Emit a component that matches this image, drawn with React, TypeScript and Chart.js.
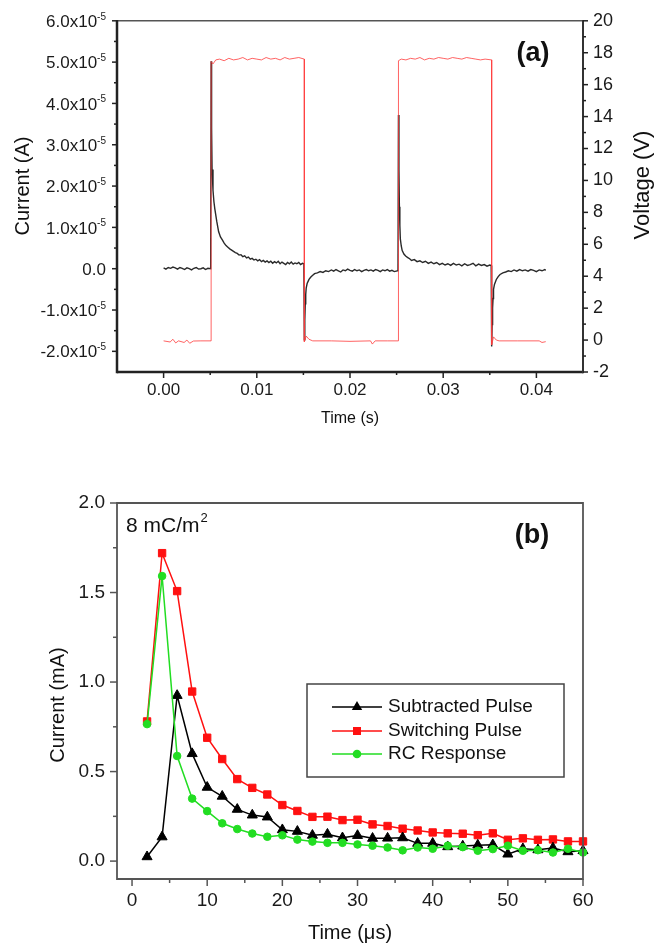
import React, { useEffect, useRef } from "react";
import { Chart, registerables } from "chart.js";

Chart.register(...registerables);

const FONT = '"Liberation Sans", Arial, Helvetica, sans-serif';

// ---------------- Panel (a): current (×10⁻⁵ A) and voltage (V) vs time (s) ----------------
const currentTime = [
  0.0, 0.00025, 0.0005, 0.00075, 0.001, 0.00125, 0.0015, 0.00175, 0.002, 0.00225, 0.0025, 0.00275, 0.003, 0.00325, 0.0035, 0.00375, 0.004, 0.00425, 0.0045, 0.00475, 0.00505,
  0.0051, 0.00515, 0.0052, 0.0053, 0.0054, 0.0055, 0.0057, 0.0059, 0.0061, 0.0063, 0.0065, 0.0067, 0.0069, 0.0071, 0.0073, 0.0075, 0.0077, 0.0079, 0.0081, 0.0083, 0.0085, 0.0087, 0.0089, 0.0091, 0.0093, 0.0095, 0.0097, 0.0099, 0.0101, 0.0103, 0.0105, 0.0107, 0.0109, 0.0111, 0.0113, 0.0115, 0.0117, 0.0119, 0.0121, 0.0123, 0.0125, 0.0127, 0.0129, 0.0131, 0.0133, 0.0135, 0.0137, 0.0139, 0.0141, 0.0143, 0.0145, 0.0147, 0.0149, 0.01505,
  0.0151, 0.01515, 0.0152, 0.01525, 0.0153, 0.0154, 0.0156, 0.0158, 0.016, 0.0162, 0.0165, 0.0168, 0.0171, 0.0174, 0.0177, 0.018, 0.01825, 0.0185, 0.01875, 0.019, 0.01925, 0.0195, 0.01975, 0.02, 0.02025, 0.0205, 0.02075, 0.021, 0.02125, 0.0215, 0.02175, 0.022, 0.02225, 0.0225, 0.02275, 0.023, 0.02325, 0.0235, 0.02375, 0.024, 0.02425, 0.0245, 0.02475, 0.02515,
  0.0252, 0.02525, 0.0253, 0.02535, 0.0254, 0.0255, 0.0256, 0.0258, 0.026, 0.0262, 0.0264, 0.0266, 0.0269, 0.0272, 0.0275, 0.0278, 0.0281, 0.0284, 0.0287, 0.029, 0.0293, 0.0296, 0.0299, 0.0302, 0.0305, 0.0308, 0.0311, 0.0314, 0.0317, 0.032, 0.0323, 0.0326, 0.0329, 0.0332, 0.0335, 0.0338, 0.0341, 0.0344, 0.0347, 0.035, 0.03515,
  0.0352, 0.03525, 0.0353, 0.03535, 0.0354, 0.0355, 0.0357, 0.0359, 0.0361, 0.0364, 0.0367, 0.037, 0.0373, 0.0376, 0.0379, 0.0382, 0.0385, 0.0388, 0.0391, 0.0394, 0.0397, 0.04, 0.0403, 0.0406, 0.0409, 0.041,
];
const currentValue = [
  0.02, -0.01, 0.03, 0.01, 0.04, 0.02, -0.01, 0.03, 0.01, -0.02, 0.02, 0.0, -0.03, 0.01, 0.03, -0.01, 0.0, 0.02, -0.02, 0.01, 0.0,
  5.02, 3.4, 2.4, 1.9, 1.62, 1.44, 1.15, 0.9, 0.77, 0.7, 0.62, 0.56, 0.52, 0.48, 0.45, 0.42, 0.39, 0.37, 0.33, 0.34, 0.29, 0.31, 0.26, 0.28, 0.23, 0.25, 0.21, 0.23, 0.19, 0.22, 0.17, 0.2, 0.16, 0.19, 0.15, 0.18, 0.13, 0.17, 0.14, 0.18, 0.12, 0.16, 0.13, 0.1, 0.15, 0.12, 0.16, 0.11, 0.14, 0.12, 0.15, 0.1, 0.13, 0.12,
  -1.72, -1.25, -0.85, -0.62, -0.47, -0.36, -0.26, -0.2, -0.16, -0.12, -0.1, -0.07, -0.09, -0.05, -0.07, -0.03, -0.06, -0.02, -0.05, -0.08, -0.03, -0.05, -0.01, -0.04, -0.06, -0.02, -0.05, -0.03, -0.07, -0.04, -0.02, -0.05, -0.03, -0.06, -0.02, -0.04, -0.07, -0.03, -0.05, -0.02, -0.06, -0.04, -0.07, -0.05,
  3.72, 2.4, 1.5, 1.05, 0.72, 0.55, 0.44, 0.35, 0.3, 0.27, 0.24, 0.2, 0.22, 0.17, 0.19, 0.15, 0.18, 0.13, 0.16, 0.12, 0.15, 0.1, 0.13, 0.09, 0.12, 0.08, 0.13, 0.09, 0.11, 0.07, 0.12, 0.08, 0.1, 0.13, 0.07, 0.11, 0.08, 0.1, 0.06, 0.09, 0.08,
  -1.88, -1.35, -0.95, -0.72, -0.5, -0.38, -0.26, -0.19, -0.14, -0.1, -0.08, -0.05, -0.07, -0.03, -0.06, -0.02, -0.05, -0.03, -0.06, -0.02, -0.04, -0.07, -0.03, -0.05, -0.02, -0.04,
];
const voltageTime = [
  0.0, 0.0007, 0.001, 0.0013, 0.0016, 0.0022, 0.0025, 0.0028, 0.0032, 0.004, 0.0051,
  0.0051, 0.0053, 0.0056, 0.006, 0.0065, 0.007, 0.0075, 0.008, 0.0085, 0.009, 0.0095, 0.01, 0.0105, 0.011, 0.0115, 0.012, 0.0125, 0.013, 0.0135, 0.014, 0.0145, 0.0151,
  0.0151, 0.0153, 0.0156, 0.016, 0.018, 0.02, 0.0222, 0.0224, 0.0227, 0.024, 0.0252,
  0.0252, 0.0255, 0.026, 0.0265, 0.027, 0.0275, 0.028, 0.0285, 0.029, 0.0295, 0.03, 0.0305, 0.031, 0.0315, 0.032, 0.0325, 0.033, 0.0335, 0.034, 0.0345, 0.0352,
  0.0352, 0.0354, 0.0357, 0.036, 0.038, 0.0403, 0.0406, 0.041,
];
const voltageValue = [
  -0.05, -0.12, 0.05, -0.18, -0.05, -0.15, 0.0, -0.2, -0.06, -0.05, -0.05,
  17.45, 17.3, 17.55, 17.6, 17.5, 17.65, 17.55, 17.6, 17.7, 17.55, 17.65, 17.6, 17.55, 17.7, 17.6, 17.65, 17.55, 17.7, 17.6, 17.65, 17.7, 17.6,
  -0.1, 0.25, 0.05, -0.05, -0.05, -0.08, -0.05, -0.25, -0.05, -0.05, -0.05,
  17.5, 17.6, 17.55, 17.65, 17.6, 17.7, 17.55, 17.65, 17.6, 17.7, 17.65, 17.6, 17.7, 17.65, 17.6, 17.7, 17.65, 17.6, 17.55, 17.6, 17.55,
  -0.3, 0.2, 0.0, -0.05, -0.05, -0.05, -0.15, -0.1,
];
const timeTicksA = [0, 0.01, 0.02, 0.03, 0.04];
const timeMinorA = [0.005, 0.015, 0.025, 0.035];
const currentTicksA = [-2, -1, 0, 1, 2, 3, 4, 5, 6];
const currentMinorA = [-1.5, -0.5, 0.5, 1.5, 2.5, 3.5, 4.5, 5.5];
const currentMantissaA = ["-2.0x10", "-1.0x10", "0.0", "1.0x10", "2.0x10", "3.0x10", "4.0x10", "5.0x10", "6.0x10"];
const currentExponentA = ["-5", "-5", "", "-5", "-5", "-5", "-5", "-5", "-5"];
const voltageTicksA = [-2, 0, 2, 4, 6, 8, 10, 12, 14, 16, 18, 20];
const voltageMinorA = [-1, 1, 3, 5, 7, 9, 11, 13, 15, 17, 19];

// ---------------- Panel (b): current (mA) vs time (μs) ----------------
const timeB = [2, 4, 6, 8, 10, 12, 14, 16, 18, 20, 22, 24, 26, 28, 30, 32, 34, 36, 38, 40, 42, 44, 46, 48, 50, 52, 54, 56, 58, 60];
const subtractedPulse = [0.024, 0.135, 0.925, 0.6, 0.412, 0.362, 0.289, 0.257, 0.246, 0.175, 0.166, 0.144, 0.15, 0.13, 0.143, 0.127, 0.128, 0.13, 0.099, 0.099, 0.08, 0.084, 0.089, 0.091, 0.039, 0.069, 0.063, 0.073, 0.052, 0.058];
const switchingPulse = [0.78, 1.72, 1.508, 0.947, 0.689, 0.57, 0.458, 0.409, 0.372, 0.313, 0.28, 0.247, 0.248, 0.229, 0.231, 0.205, 0.196, 0.181, 0.171, 0.16, 0.155, 0.153, 0.145, 0.155, 0.119, 0.127, 0.119, 0.121, 0.11, 0.11];
const rcResponse = [0.765, 1.592, 0.587, 0.349, 0.279, 0.211, 0.179, 0.154, 0.136, 0.144, 0.12, 0.109, 0.102, 0.102, 0.093, 0.086, 0.076, 0.06, 0.076, 0.069, 0.086, 0.078, 0.058, 0.067, 0.086, 0.058, 0.061, 0.048, 0.069, 0.048];
const seriesNamesB = ["Subtracted Pulse", "Switching Pulse", "RC Response"];
const timeTicksB = [0, 10, 20, 30, 40, 50, 60];
const timeMinorB = [5, 15, 25, 35, 45, 55];
const currentTicksB = [0, 0.5, 1.0, 1.5, 2.0];
const currentMinorB = [0.25, 0.75, 1.25, 1.75];

// ---------------- Decoration plugin ----------------
type Edge = { width: number; color: string };
type TickSpec = { axis: string; side: "left" | "right" | "bottom"; major: number[]; minor: number[]; majorLen: number; minorLen: number; width: number; color: string };
type TextSpec = { text: string; x: number; y: number; size: number; bold?: boolean; rotate?: boolean; align?: CanvasTextAlign; sup?: string; supSize?: number; supRise?: number };
type LegendItem = { label: string; color: string; marker: "triangle" | "square" | "circle" };
type LegendSpec = { left: number; top: number; width: number; height: number; rows: number[]; lineFrom: number; lineTo: number; textX: number; size: number; items: LegendItem[] };
type SupLabels = { axis: string; values: number[]; main: string[]; sup: string[]; rightEdge: number; size: number; supSize: number; supRise: number };
type DecoSpec = {
  frame: { left: Edge; right: Edge; top: Edge; bottom: Edge };
  ticks: TickSpec[];
  texts: TextSpec[];
  legend?: LegendSpec;
  supLabels?: SupLabels;
};

function drawMarker(ctx: CanvasRenderingContext2D, kind: string, x: number, y: number, color: string) {
  ctx.fillStyle = color;
  ctx.beginPath();
  if (kind === "triangle") {
    const r = 6;
    ctx.moveTo(x, y - r);
    ctx.lineTo(x + r * 0.866, y + r * 0.5);
    ctx.lineTo(x - r * 0.866, y + r * 0.5);
    ctx.closePath();
  } else if (kind === "square") {
    ctx.rect(x - 4, y - 4, 8, 8);
  } else {
    ctx.arc(x, y, 4.3, 0, Math.PI * 2);
  }
  ctx.fill();
}

function makeDeco(spec: DecoSpec) {
  return {
    id: "deco",
    afterDraw(chart: any) {
      const ctx = chart.ctx as CanvasRenderingContext2D;
      const a = chart.chartArea;
      ctx.save();
      const seg = (x1: number, y1: number, x2: number, y2: number, w: number, c: string) => {
        ctx.beginPath();
        ctx.lineWidth = w;
        ctx.strokeStyle = c;
        ctx.moveTo(x1, y1);
        ctx.lineTo(x2, y2);
        ctx.stroke();
      };
      const f = spec.frame;
      seg(a.left, a.top, a.right, a.top, f.top.width, f.top.color);
      seg(a.left, a.bottom, a.right, a.bottom, f.bottom.width, f.bottom.color);
      seg(a.left, a.top - f.top.width / 2, a.left, a.bottom + f.bottom.width / 2, f.left.width, f.left.color);
      seg(a.right, a.top - f.top.width / 2, a.right, a.bottom + f.bottom.width / 2, f.right.width, f.right.color);

      for (const t of spec.ticks) {
        const s = chart.scales[t.axis];
        const draw = (v: number, len: number) => {
          const p = s.getPixelForValue(v);
          if (t.side === "left") seg(a.left, p, a.left - len, p, t.width, t.color);
          else if (t.side === "right") seg(a.right, p, a.right + len, p, t.width, t.color);
          else seg(p, a.bottom, p, a.bottom + len, t.width, t.color);
        };
        t.major.forEach((v) => draw(v, t.majorLen));
        t.minor.forEach((v) => draw(v, t.minorLen));
      }

      if (spec.supLabels) {
        const sl = spec.supLabels;
        const s = chart.scales[sl.axis];
        ctx.fillStyle = "#1a1a1a";
        ctx.textBaseline = "alphabetic";
        ctx.textAlign = "right";
        sl.values.forEach((v, i) => {
          const p = s.getPixelForValue(v);
          ctx.font = `${sl.supSize}px ${FONT}`;
          const ws = sl.sup[i] ? ctx.measureText(sl.sup[i]).width : 0;
          if (sl.sup[i]) ctx.fillText(sl.sup[i], sl.rightEdge, p - sl.supRise);
          ctx.font = `${sl.size}px ${FONT}`;
          ctx.fillText(sl.main[i], sl.rightEdge - ws, p + sl.size * 0.36);
        });
      }

      for (const t of spec.texts) {
        ctx.save();
        ctx.translate(t.x, t.y);
        if (t.rotate) ctx.rotate(-Math.PI / 2);
        ctx.fillStyle = "#111";
        ctx.font = `${t.bold ? "bold " : ""}${t.size}px ${FONT}`;
        ctx.textBaseline = "middle";
        ctx.textAlign = t.align ?? "center";
        ctx.fillText(t.text, 0, 0);
        if (t.sup) {
          const w = ctx.measureText(t.text).width;
          ctx.font = `${t.supSize ?? 12}px ${FONT}`;
          ctx.textAlign = "left";
          ctx.fillText(t.sup, w + 1, -(t.supRise ?? 7));
        }
        ctx.restore();
      }

      if (spec.legend) {
        const L = spec.legend;
        ctx.lineWidth = 1.5;
        ctx.strokeStyle = "#444";
        ctx.strokeRect(L.left, L.top, L.width, L.height);
        L.items.forEach((it, i) => {
          const y = L.rows[i];
          seg(L.lineFrom, y, L.lineTo, y, 1.5, it.color);
          drawMarker(ctx, it.marker, (L.lineFrom + L.lineTo) / 2, y, it.color);
          ctx.fillStyle = "#111";
          ctx.font = `${L.size}px ${FONT}`;
          ctx.textAlign = "left";
          ctx.textBaseline = "middle";
          ctx.fillText(it.label, L.textX, y);
        });
      }
      ctx.restore();
    },
  };
}

// ---------------- Configs ----------------
const noGrid = { display: false, drawTicks: false };

function configA(): any {
  return {
    type: "line",
    data: {
      datasets: [
        {
          label: "Voltage (V)",
          data: voltageTime.map((x, i) => ({ x, y: voltageValue[i] })),
          yAxisID: "yV",
          borderColor: "rgba(255,60,60,0.8)",
          borderWidth: 1,
          pointRadius: 0,
          tension: 0,
        },
        {
          label: "Current (A)",
          data: currentTime.map((x, i) => ({ x, y: currentValue[i] })),
          yAxisID: "yI",
          borderColor: "#2a2a2a",
          borderWidth: 1.4,
          pointRadius: 0,
          tension: 0,
        },
      ],
    },
    options: {
      animation: false,
      responsive: false,
      maintainAspectRatio: false,
      layout: { padding: { top: 20, left: 0, right: 0, bottom: 0 } },
      plugins: { legend: { display: false }, tooltip: { enabled: false } },
      scales: {
        x: {
          type: "linear",
          position: "bottom",
          min: -0.005,
          max: 0.045,
          grid: noGrid,
          border: { display: false },
          ticks: { color: "#1a1a1a", font: { family: FONT, size: 17 }, padding: 8, maxRotation: 0, autoSkip: false, callback: (v: any) => Number(v).toFixed(2) },
          afterBuildTicks: (s: any) => { s.ticks = timeTicksA.map((value) => ({ value })); },
          afterFit: (s: any) => { s.height = 58; },
        },
        yI: {
          type: "linear",
          position: "left",
          min: -2.5,
          max: 6,
          grid: noGrid,
          border: { display: false },
          ticks: { display: false },
          afterBuildTicks: (s: any) => { s.ticks = currentTicksA.map((value) => ({ value })); },
          afterFit: (s: any) => { s.width = 117; },
        },
        yV: {
          type: "linear",
          position: "right",
          min: -2,
          max: 20,
          grid: noGrid,
          border: { display: false },
          ticks: { color: "#1a1a1a", font: { family: FONT, size: 18 }, padding: 10, autoSkip: false, callback: (v: any) => String(v) },
          afterBuildTicks: (s: any) => { s.ticks = voltageTicksA.map((value) => ({ value })); },
          afterFit: (s: any) => { s.width = 71; },
        },
      },
    },
    plugins: [
      makeDeco({
        frame: {
          left: { width: 2.5, color: "#222" },
          bottom: { width: 2.5, color: "#222" },
          top: { width: 1.5, color: "#555" },
          right: { width: 2, color: "#333" },
        },
        ticks: [
          { axis: "x", side: "bottom", major: timeTicksA, minor: timeMinorA, majorLen: 6, minorLen: 3, width: 1.5, color: "#222" },
          { axis: "yI", side: "left", major: currentTicksA, minor: currentMinorA, majorLen: 5, minorLen: 3, width: 1.5, color: "#222" },
          { axis: "yV", side: "right", major: voltageTicksA, minor: voltageMinorA, majorLen: 5, minorLen: 3, width: 1.5, color: "#222" },
        ],
        supLabels: { axis: "yI", values: currentTicksA, main: currentMantissaA, sup: currentExponentA, rightEdge: 106, size: 17, supSize: 10, supRise: 1 },
        texts: [
          { text: "Current (A)", x: 23, y: 186, size: 20, rotate: true },
          { text: "Voltage (V)", x: 643, y: 185, size: 22, rotate: true },
          { text: "Time (s)", x: 350, y: 419, size: 16 },
          { text: "(a)", x: 533, y: 54, size: 27, bold: true },
        ],
      }),
    ],
  };
}

function configB(): any {
  const mk = (label: string, values: number[], color: string, style: string, radius: number) => ({
    label,
    data: timeB.map((x, i) => ({ x, y: values[i] })),
    borderColor: color,
    backgroundColor: color,
    borderWidth: 1.5,
    pointStyle: style,
    pointRadius: radius,
    pointBorderWidth: 1,
    pointBorderColor: color,
    pointBackgroundColor: color,
    tension: 0,
    clip: false,
  });
  return {
    type: "line",
    data: {
      datasets: [
        mk(seriesNamesB[2], rcResponse, "#22dd22", "circle", 3.8),
        mk(seriesNamesB[0], subtractedPulse, "#000000", "triangle", 5.8),
        mk(seriesNamesB[1], switchingPulse, "#ff1010", "rect", 5.2),
      ],
    },
    options: {
      animation: false,
      responsive: false,
      maintainAspectRatio: false,
      layout: { padding: { top: 63, left: 0, right: 71, bottom: 0 } },
      plugins: { legend: { display: false }, tooltip: { enabled: false } },
      scales: {
        x: {
          type: "linear",
          position: "bottom",
          min: -2,
          max: 60,
          grid: noGrid,
          border: { display: false },
          ticks: { color: "#1a1a1a", font: { family: FONT, size: 19 }, padding: 10, maxRotation: 0, autoSkip: false, callback: (v: any) => String(v) },
          afterBuildTicks: (s: any) => { s.ticks = timeTicksB.map((value) => ({ value })); },
          afterFit: (s: any) => { s.height = 65; },
        },
        y: {
          type: "linear",
          position: "left",
          min: -0.1,
          max: 2.0,
          grid: noGrid,
          border: { display: false },
          ticks: { color: "#1a1a1a", font: { family: FONT, size: 19 }, padding: 12, autoSkip: false, callback: (v: any) => Number(v).toFixed(1) },
          afterBuildTicks: (s: any) => { s.ticks = currentTicksB.map((value) => ({ value })); },
          afterFit: (s: any) => { s.width = 117; },
        },
      },
    },
    plugins: [
      makeDeco({
        frame: {
          left: { width: 1.8, color: "#555" },
          bottom: { width: 1.8, color: "#555" },
          top: { width: 1.8, color: "#555" },
          right: { width: 1.8, color: "#555" },
        },
        ticks: [
          { axis: "x", side: "bottom", major: timeTicksB, minor: timeMinorB, majorLen: 7, minorLen: 4, width: 1.5, color: "#555" },
          { axis: "y", side: "left", major: currentTicksB, minor: currentMinorB, majorLen: 7, minorLen: 4, width: 1.5, color: "#555" },
        ],
        texts: [
          { text: "Current (mA)", x: 58, y: 265, size: 20, rotate: true },
          { text: "Time (μs)", x: 350, y: 493, size: 20 },
          { text: "(b)", x: 532, y: 96, size: 27, bold: true },
          { text: "8 mC/m", x: 126, y: 86, size: 21, align: "left", sup: "2", supSize: 13, supRise: 8 },
        ],
        legend: {
          left: 307,
          top: 244,
          width: 257,
          height: 93,
          rows: [267, 291, 314],
          lineFrom: 332,
          lineTo: 382,
          textX: 388,
          size: 19,
          items: [
            { label: seriesNamesB[0], color: "#000000", marker: "triangle" },
            { label: seriesNamesB[1], color: "#ff1010", marker: "square" },
            { label: seriesNamesB[2], color: "#22dd22", marker: "circle" },
          ],
        },
      }),
    ],
  };
}

function ChartCanvas({ makeConfig, top, height }: { makeConfig: () => any; top: number; height: number }) {
  const ref = useRef<HTMLCanvasElement | null>(null);
  useEffect(() => {
    if (!ref.current) return;
    const chart = new Chart(ref.current, makeConfig());
    return () => chart.destroy();
  }, []);
  return (
    <canvas
      ref={ref}
      width={654}
      height={height}
      style={{ position: "absolute", left: 0, top, width: 654, height, display: "block" }}
    />
  );
}

export default function App() {
  return (
    <div style={{ position: "absolute", left: 0, top: 0, width: 654, height: 944, background: "#fff", overflow: "hidden" }}>
      <ChartCanvas makeConfig={configA} top={0} height={430} />
      <ChartCanvas makeConfig={configB} top={440} height={504} />
    </div>
  );
}
